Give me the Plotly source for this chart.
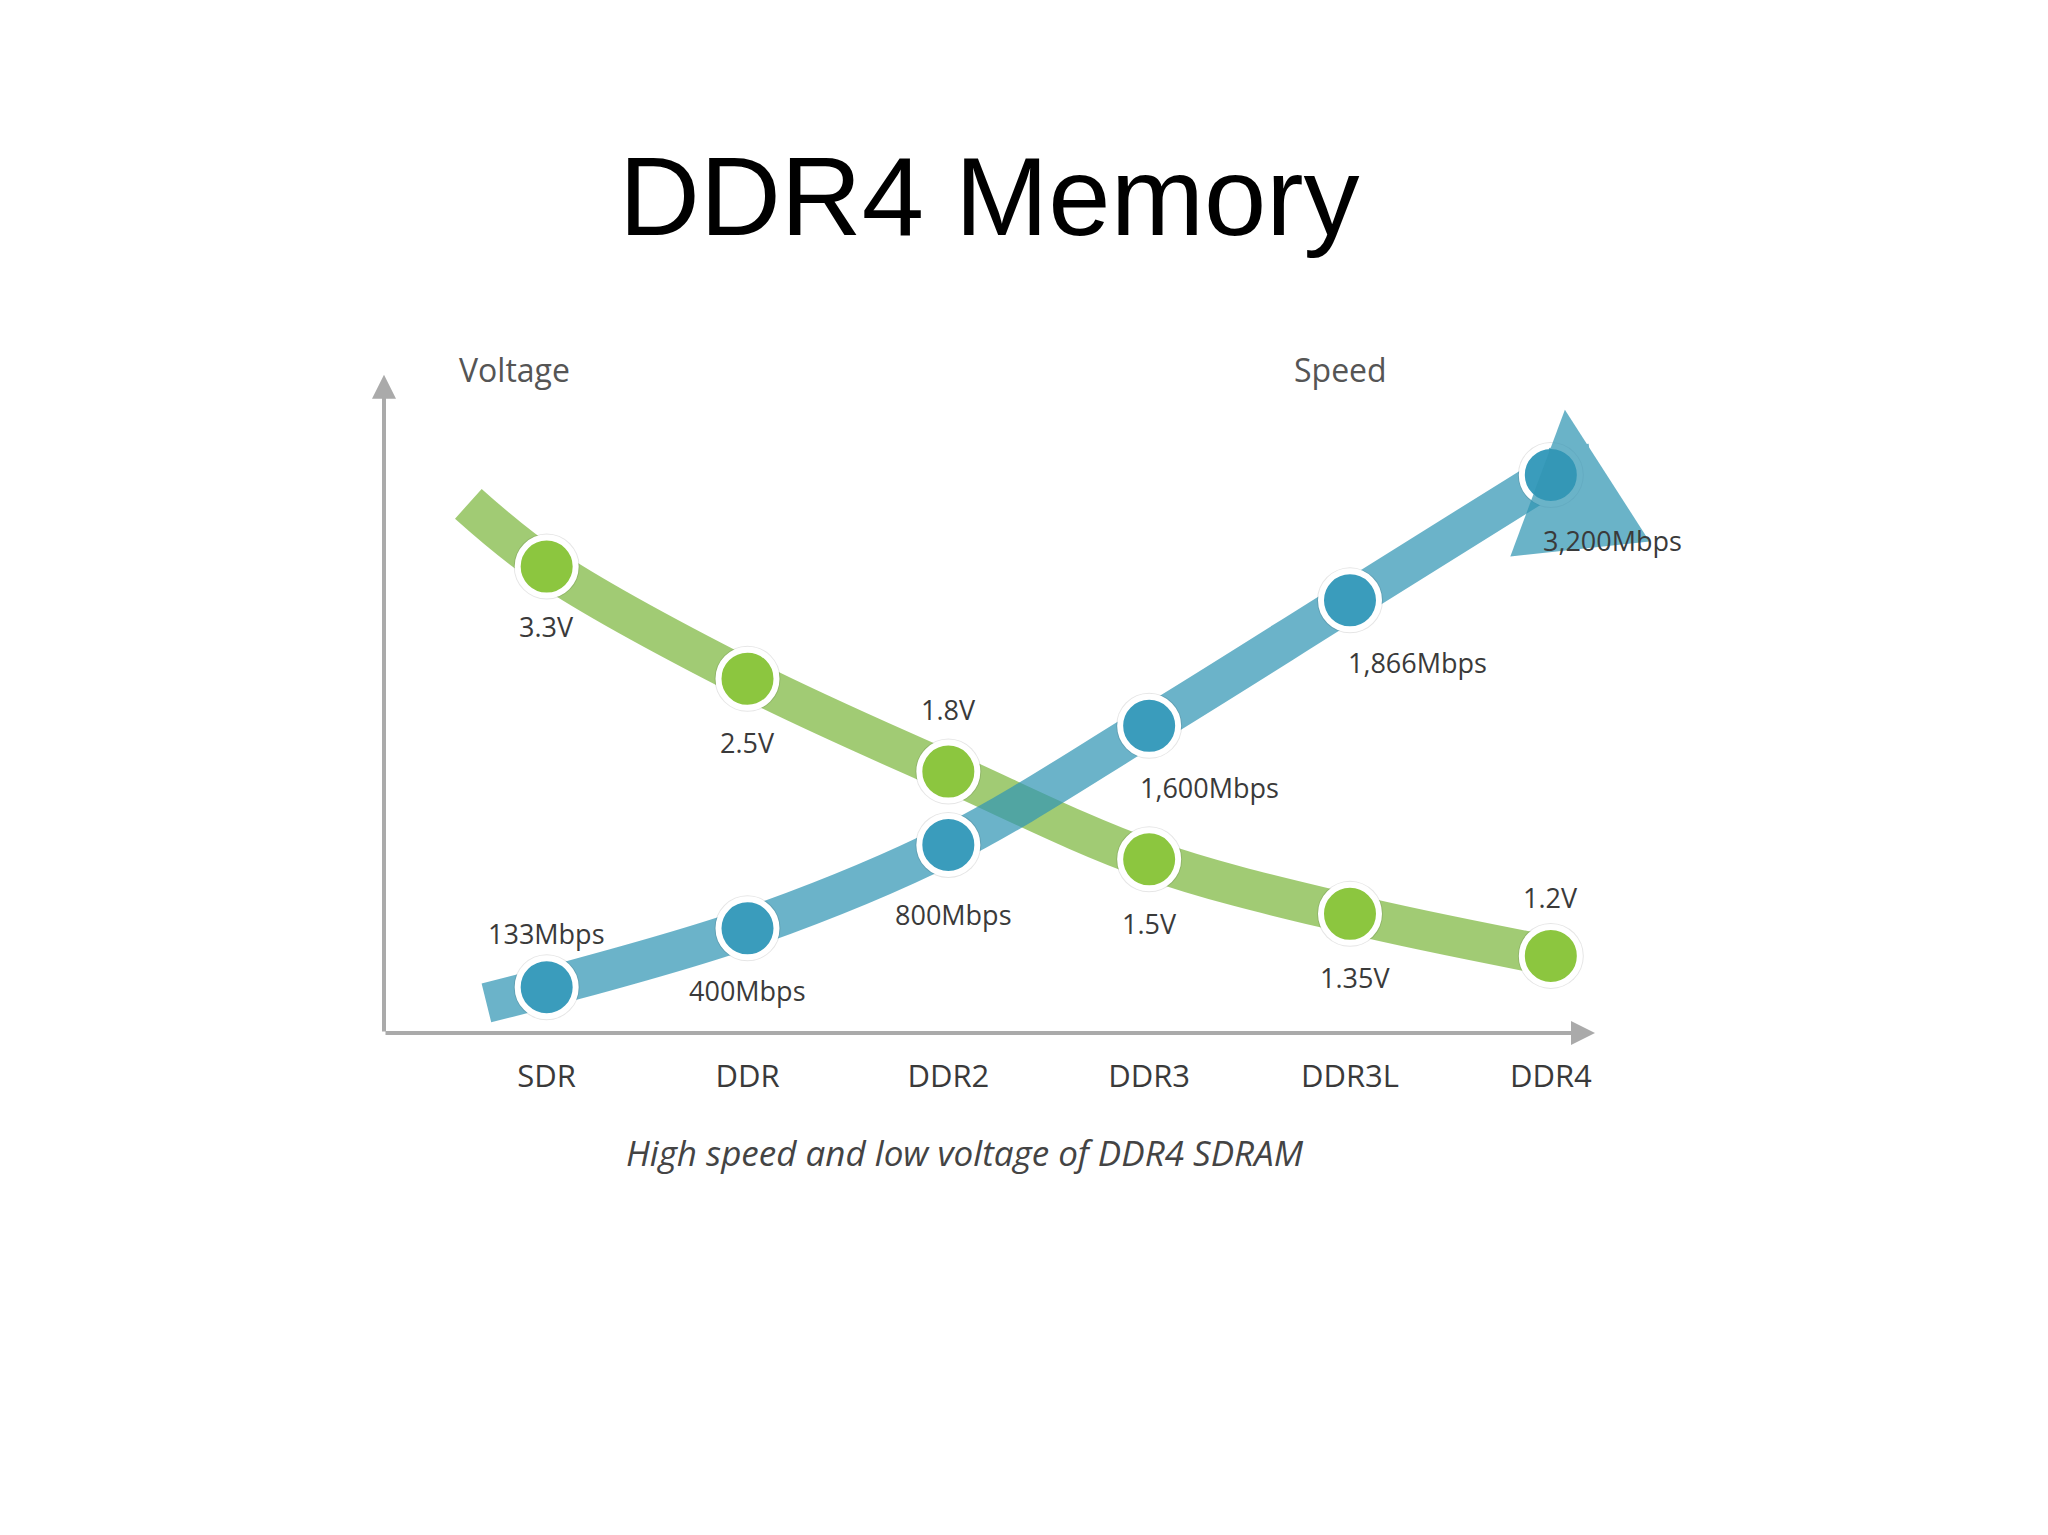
import plotly.graph_objects as go

categories = ['SDR', 'DDR', 'DDR2', 'DDR3', 'DDR3L', 'DDR4']
voltage_labels = ['3.3V', '2.5V', '1.8V', '1.5V', '1.35V', '1.2V']
speed_labels = ['133Mbps', '400Mbps', '800Mbps', '1,600Mbps', '1,866Mbps', '3,200Mbps']
# illustrative heights of the markers on a hidden 0-100 scale
voltage_level = [74.4, 56.5, 41.7, 27.7, 19.0, 12.3]
speed_level = [7.3, 16.7, 30.0, 49.0, 69.0, 89.0]

x = list(range(len(categories)))
GREEN_BAND = 'rgba(130,185,70,0.75)'
BLUE_BAND = 'rgba(50,150,180,0.72)'
GREEN = '#8cc63f'
BLUE = '#3a9cbc'
LABEL = '#3a3a3a'

fig = go.Figure()

# bands (start tail -> markers -> just before the arrow head)
gx = [-0.39] + x + [5.2]
gy = [84.4] + voltage_level + [10.6]
bx = [-0.30] + x + [5.0]
by = [4.8] + speed_level + [97.0]
fig.add_trace(go.Scatter(x=gx[:-1], y=gy[:-1], mode='lines', line=dict(color=GREEN_BAND, width=40, shape='spline'),
                         hoverinfo='skip'))
fig.add_trace(go.Scatter(x=bx[:-1], y=by[:-1], mode='lines', line=dict(color=BLUE_BAND, width=40, shape='spline'),
                         hoverinfo='skip'))

# marker shadows + markers
for ys, col in [(voltage_level, GREEN), (speed_level, BLUE)]:
    fig.add_trace(go.Scatter(x=x, y=ys, mode='markers',
                             marker=dict(size=66, color='rgba(0,0,0,0.10)', line=dict(width=0)),
                             hoverinfo='skip'))
    fig.add_trace(go.Scatter(x=x, y=ys, mode='markers',
                             marker=dict(size=58, color=col, line=dict(color='white', width=6)),
                             hoverinfo='skip'))

ann = []
# arrow heads of the bands
ann.append(dict(x=gx[-1], y=gy[-1], ax=x[-1] + 0.35, ay=voltage_level[-1] + 0.8, xref='x', yref='y',
                axref='x', ayref='y', showarrow=True, arrowhead=2, arrowwidth=40, arrowsize=0.7,
                arrowcolor=GREEN_BAND, text=''))
ann.append(dict(x=bx[-1] + 0.07, y=by[-1] + 2.4, ax=x[-1] + 0.1, ay=speed_level[-1] + 1.5, xref='x', yref='y',
                axref='x', ayref='y', showarrow=True, arrowhead=2, arrowwidth=40, arrowsize=0.7,
                arrowcolor=BLUE_BAND, text=''))

# axes arrows
ann.append(dict(x=0, y=1.05, ax=0, ay=0, xref='x domain', yref='y domain', axref='x domain', ayref='y domain',
                showarrow=True, arrowhead=2, arrowwidth=4, arrowsize=1.2, arrowcolor='#aaaaaa', text=''))
ann.append(dict(x=1.0, y=0, ax=0, ay=0, xref='x domain', yref='y domain', axref='x domain', ayref='y domain',
                showarrow=True, arrowhead=2, arrowwidth=4, arrowsize=1.2, arrowcolor='#aaaaaa', text=''))

# voltage labels: offsets in pixels
v_off = [(0, 60), (0, 64), (0, -62), (0, 64), (5, 64), (0, -58)]
for xi, yi, t, (dx, dy) in zip(x, voltage_level, voltage_labels, v_off):
    ann.append(dict(x=xi, y=yi, text=t, showarrow=False, xshift=dx, yshift=-dy,
                    font=dict(size=27, color=LABEL, family='Open Sans')))
s_off = [(0, -54), (0, 62), (5, 70), (60, 62), (68, 62), (62, 66)]
for xi, yi, t, (dx, dy) in zip(x, speed_level, speed_labels, s_off):
    ann.append(dict(x=xi, y=yi, text=t, showarrow=False, xshift=dx, yshift=-dy,
                    font=dict(size=27, color=LABEL, family='Open Sans')))

ann.append(dict(x=0.06, y=1.02, xref='paper', yref='paper', text='Voltage', showarrow=False,
                xanchor='left', yanchor='bottom', font=dict(size=32, color='#555555', family='Open Sans')))
ann.append(dict(x=0.83, y=1.02, xref='paper', yref='paper', text='Speed', showarrow=False,
                xanchor='right', yanchor='bottom', font=dict(size=32, color='#555555', family='Open Sans')))
ann.append(dict(x=0.5, y=1.0 + 210 / 627, xref='paper', yref='paper', text='DDR4 Memory', showarrow=False,
                font=dict(size=112, color='black', family='Liberation Sans'), yanchor='middle'))
ann.append(dict(x=0.48, y=0.0 - 145 / 627, xref='paper', yref='paper',
                text='<i>High speed and low voltage of DDR4 SDRAM</i>', showarrow=False,
                font=dict(size=35, color='#444444', family='Open Sans')))

fig.update_layout(
    width=2048, height=1535, showlegend=False,
    paper_bgcolor='white', plot_bgcolor='white',
    margin=dict(l=376, r=461, t=398, b=510),
    annotations=ann,
    xaxis=dict(range=[-0.81, 5.22], tickmode='array', tickvals=x, ticktext=categories,
               showgrid=False, zeroline=False, showline=False, ticks='',
               tickfont=dict(size=31, color=LABEL, family='Open Sans'), ticklabelstandoff=22),
    yaxis=dict(range=[0, 100], visible=False),
)
fig.write_html('out.html')
